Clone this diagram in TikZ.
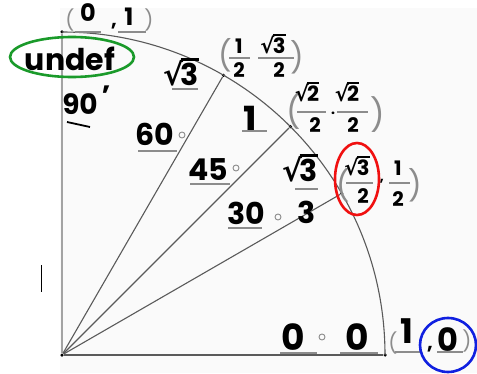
\documentclass[tikz,border=0pt]{standalone}
\usepackage{fontspec}
\setmainfont{Poppins}
\newfontfamily\rootfont{DejaVu Sans}
\usepackage{xcolor}
\definecolor{penGreen}{HTML}{1A9A2A}
\definecolor{penRed}{HTML}{F01010}
\definecolor{penBlue}{HTML}{1020E0}
\definecolor{printGray}{HTML}{8C8C8C}
\definecolor{rayGray}{HTML}{5A5A5A}
\newcommand{\rt}[1]{{\rootfont\bfseries √}\kern-0.08em\vbox{\hrule height 0.08em\kern0.06em\hbox{#1}}}

\begin{document}
\begin{tikzpicture}[x=1pt, y=1pt,
  ink/.style={inner sep=0pt, font=\bfseries\fontsize{#1}{#1}\selectfont},
  print/.style={inner sep=0pt, text=printGray, font=\fontsize{#1}{#1}\selectfont},
  blank/.style={printGray, line width=1.3pt},
  deg/.style={circle, draw=printGray, line width=0.9pt, minimum size=6pt, inner sep=0pt},
  dot/.style={circle, fill=black, minimum size=3.5pt, inner sep=0pt},
  ray/.style={rayGray, line width=1.1pt},
  loop/.style={line width=2.6pt}]
  \useasboundingbox (0,0) rectangle (477,373);
  \fill[black!2] (60,0) rectangle (477,365);
  % quarter circle
  \node[dot] (O) at (62,18) {};
  \begin{scope}[shift={(62,18)}]
    \node[dot] (p0) at (0:323) {};
    \node[dot] (p30) at (30:323) {};
    \node[dot] (p45) at (45:323) {};
    \node[dot] (p60) at (60:323) {};
    \node[dot] (p90) at (90:323) {};
  \end{scope}
  \draw[printGray!80, line width=1.8pt] (O) -- (p90);
  \draw[rayGray, line width=1.5pt] (O) -- (p0);
  \draw[ray] (O) -- (p30);
  \draw[ray] (O) -- (p45);
  \draw[ray] (O) -- (p60);
  \draw[ray] (p0.center) arc (0:90:323);
  % (0,1)
  \node[print=20] (lp90) at (70,353) {(};
  \node[ink=24] (x90) at (88,360) {0};
  \node[ink=20] (c90) at (114,347) {,};
  \node[ink=24] (y90) at (129,356) {1};
  \node[print=20] (rp90) at (149,353) {)};
  \draw[blank] (75,341) -- (101,341);
  \draw[blank] (118,341) -- (146,341);
  % (1/2, sqrt3/2)
  \node[print=30] (lp60) at (225,318) {(};
  \node[ink=20] (x60n) at (239,327) {1};
  \node[ink=20] (x60d) at (239,303) {2};
  \draw[blank] (229,315) -- (250,315);
  \node[ink=21] (y60n) at (273,329) {\rt{3}};
  \node[ink=20] (y60d) at (279,303) {2};
  \draw[blank] (258,315) -- (294,315);
  \node[print=30] (rp60) at (297,316) {)};
  % (sqrt2/2, sqrt2/2)
  \node[print=32] (lp45) at (294,261) {(};
  \node[ink=21] (x45n) at (307,281) {\rt{2}};
  \node[ink=20] (x45d) at (315,248) {2};
  \draw[blank] (297,261) -- (326,261);
  \node[ink=14] (c45) at (333,260) {.};
  \node[ink=21] (y45n) at (347,281) {\rt{2}};
  \node[ink=20] (y45d) at (353,248) {2};
  \draw[blank] (337,261) -- (368,261);
  \node[print=32] (rp45) at (378,258) {)};
  % (sqrt3/2, 1/2)
  \node[print=30] (lp30) at (343,188) {(};
  \node[ink=21] (x30n) at (357,207) {\rt{3}};
  \node[ink=20] (x30d) at (363,177) {2};
  \draw[blank] (346,190) -- (373,190);
  \node[ink=14] (c30) at (382,192) {,};
  \node[ink=20] (y30n) at (398,205) {1};
  \node[ink=20] (y30d) at (398,174) {2};
  \draw[blank] (389,190) -- (410,190);
  \node[print=30] (rp30) at (415,188) {)};
  \draw[penRed, loop] (357,194) ellipse [x radius=22, y radius=36];
  % (1,0)
  \node[print=20] (lp0) at (393,30) {(};
  \node[ink=34] (x0) at (407,42) {1};
  \draw[blank] (395,21) -- (420,21);
  \node[ink=20] (c0) at (430,24) {,};
  \node[ink=32] (y0) at (448,33) {0};
  \draw[blank] (437,21) -- (463,21);
  \node[print=20] (rp0) at (467,32) {)};
  \draw[penBlue, loop] (448,28) ellipse [x radius=28, y radius=27];
  % tangents
  \node[ink=30] (tan90) at (70,314) {undef};
  \draw[penGreen, loop] (72,316) ellipse [x radius=62, y radius=20];
  \node[ink=30] (tan60) at (181,301) {\rt{3}};
  \draw[blank] (172,284) -- (198,284);
  \node[ink=36] (tan45) at (250,254) {1};
  \draw[blank] (242,242) -- (267,242);
  \node[ink=30] (tan30n) at (300,205) {\rt{3}};
  \draw[blank] (295,184) -- (318,184);
  \node[ink=30] (tan30d) at (307,161) {3};
  \node[ink=36] (tan0) at (357,36) {0};
  \draw[blank] (340,20) -- (378,20);
  % angles
  \node[ink=28] (a90) at (80,269) {90};
  \node[ink=28] (d90) at (106,277) {'};
  \draw[black, line width=1.8pt] (67,251) -- (90,246);
  \node[ink=30] (a60) at (155,239) {60};
  \draw[blank] (138,222) -- (177,222);
  \node[deg] (d60) at (182,238) {};
  \node[ink=30] (a45) at (208,203) {45};
  \draw[blank] (190,189) -- (230,189);
  \node[deg] (d45) at (236,205) {};
  \node[ink=30] (a30) at (246,160) {30};
  \draw[blank] (228,145) -- (262,145);
  \node[deg] (d30) at (278,156) {};
  \node[ink=36] (a0) at (293,36) {0};
  \draw[blank] (280,20) -- (317,20);
  \node[deg] (d0) at (322,36) {};
  \draw[black, line width=0.8pt] (41,108) -- (41,81);
\end{tikzpicture}
\end{document}
